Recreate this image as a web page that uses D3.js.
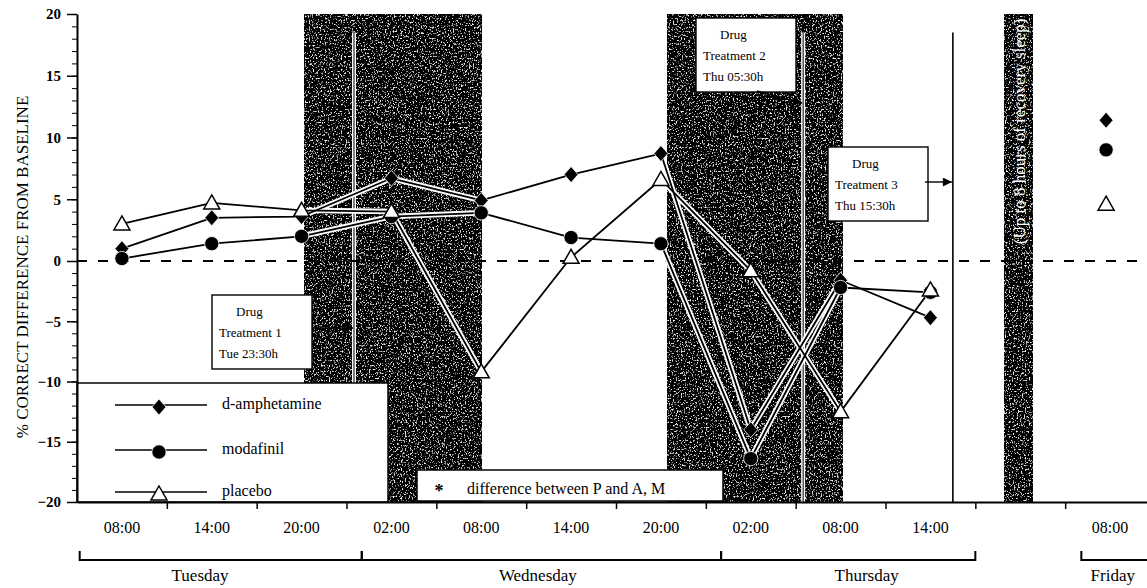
<!DOCTYPE html>
<html>
<head>
<meta charset="utf-8">
<script src="https://cdnjs.cloudflare.com/ajax/libs/d3/7.8.5/d3.min.js"></script>
<style>
  body { margin: 0; background: #fff; }
  text { font-family: "Liberation Serif", "Times New Roman", serif; fill: #000; }
</style>
</head>
<body>
<script>
// time slots along the x axis (one empty slot for the recovery-sleep gap)
const slots = ["Tue 08:00", "Tue 14:00", "Tue 20:00", "Wed 02:00", "Wed 08:00", "Wed 14:00",
  "Wed 20:00", "Thu 02:00", "Thu 08:00", "Thu 14:00", "gap", "Fri 08:00"];
const tickLabels = ["08:00", "14:00", "20:00", "02:00", "08:00", "14:00",
  "20:00", "02:00", "08:00", "14:00", "", "08:00"];

// % correct difference from baseline, Tue 08:00 .. Thu 14:00
const amphetamine = [1.0, 3.5, 3.6, 6.7, 4.9, 7.0, 8.7, -14.0, -1.6, -4.7];
const modafinil   = [0.2, 1.4, 2.0, 3.6, 3.9, 1.9, 1.4, -16.4, -2.2, -2.6];
const placebo     = [3.0, 4.7, 4.1, 4.0, -9.2, 0.3, 6.6, -0.8, -12.5, -2.4];
// Friday 08:00 after recovery sleep: amphetamine, modafinil, placebo
const fridayValues = [11.4, 9.0, 4.6];

const seriesNames = ["d-amphetamine", "modafinil", "placebo"];
const yTicks = [-20, -15, -10, -5, 0, 5, 10, 15, 20];

// night periods (in slot units), recovery sleep, drug treatments
const nights = [[2.03, 4], [6.07, 8.02]];
const recoverySleep = [9.83, 10.14];
const treatments = [
  {name: "Treatment 1", when: "Tue 23:30h", at: 2 + 3.5 / 6},
  {name: "Treatment 2", when: "Thu 05:30h", at: 7 + 3.5 / 6},
  {name: "Treatment 3", when: "Thu 15:30h", at: 9 + 1.5 / 6}
];
const days = ["Tuesday", "Wednesday", "Thursday", "Friday"];
const dayRanges = [[-0.47, 2.67], [2.67, 6.67], [6.67, 9.5], [10.68, 11.7]];
const dayLabelAt = [0.87, 4.63, 8.29, 11.03];

const width = 1147, height = 588;

const svg = d3.select("body").append("svg")
  .attr("width", width)
  .attr("height", height);

// speckled grey texture for the shaded periods
const defs = svg.append("defs");
const grain = defs.append("filter").attr("id", "grain")
  .attr("x", 0).attr("y", 0).attr("width", 1).attr("height", 1);
grain.append("feTurbulence").attr("type", "fractalNoise")
  .attr("baseFrequency", "0.75 0.55").attr("numOctaves", 2).attr("seed", 5);
grain.append("feColorMatrix").attr("type", "matrix")
  .attr("values", "1 0 0 0 0  1 0 0 0 0  1 0 0 0 0  0 0 0 0 1");
const ct = grain.append("feComponentTransfer");
["feFuncR", "feFuncG", "feFuncB"].forEach(f => {
  ct.append(f).attr("type", "linear").attr("slope", 5).attr("intercept", -2.9);
});

defs.append("marker").attr("id", "arrow")
  .attr("viewBox", "0 0 10 10").attr("refX", 10).attr("refY", 5)
  .attr("markerWidth", 12).attr("markerHeight", 9)
  .attr("markerUnits", "userSpaceOnUse").attr("orient", "auto")
  .append("path").attr("d", "M0,0L10,5L0,10Z").attr("fill", "#000");

const x = d3.scaleBand().domain(slots).range([77, 1155]);
const xs = d3.scaleLinear().domain([-0.5, 11.5]).range([77, 1155]);
const y = d3.scaleLinear().domain([-20, 0, 20]).range([502, 261, 14]);

// shaded night bands
svg.selectAll(".night")
  .data(nights)
  .enter().append("rect")
  .attr("x", d => xs(d[0]))
  .attr("width", d => xs(d[1]) - xs(d[0]))
  .attr("y", y(20))
  .attr("height", y(-20) - y(20))
  .attr("filter", "url(#grain)");

svg.append("rect")
  .attr("x", xs(recoverySleep[0]))
  .attr("width", xs(recoverySleep[1]) - xs(recoverySleep[0]))
  .attr("y", y(20))
  .attr("height", y(-20) - y(20))
  .attr("filter", "url(#grain)");

svg.append("text")
  .attr("transform", `translate(${xs((recoverySleep[0] + recoverySleep[1]) / 2) + 6}, ${y(10.5)}) rotate(-90)`)
  .attr("text-anchor", "middle")
  .style("fill", "#fff")
  .style("font-size", "17px")
  .text("(Up to 8 hours of recovery sleep)");

// treatment time lines
treatments.forEach((t, i) => {
  if (i < 2) {
    svg.append("line")
      .attr("x1", xs(t.at)).attr("x2", xs(t.at))
      .attr("y1", y(18.5)).attr("y2", y(-20))
      .attr("stroke", "#fff").attr("stroke-width", 4);
    svg.append("line")
      .attr("x1", xs(t.at)).attr("x2", xs(t.at))
      .attr("y1", y(18.5)).attr("y2", y(-20))
      .attr("stroke", "#000").attr("stroke-width", 1);
  } else {
    svg.append("line")
      .attr("x1", xs(t.at)).attr("x2", xs(t.at))
      .attr("y1", y(18.5)).attr("y2", y(-20))
      .attr("stroke", "#000").attr("stroke-width", 1.6);
  }
});

// zero line
svg.append("line")
  .attr("x1", 77).attr("x2", width)
  .attr("y1", y(0)).attr("y2", y(0))
  .attr("stroke", "#000").attr("stroke-width", 2)
  .attr("stroke-dasharray", "10,11");

// series
const seriesData = [amphetamine, modafinil, placebo];
const line = d3.line().x((d, i) => xs(i)).y(d => y(d));

svg.selectAll(".halo")
  .data(seriesData)
  .enter().append("path")
  .attr("d", line)
  .attr("fill", "none")
  .attr("stroke", "#fff")
  .attr("stroke-width", 5.5)
  .attr("stroke-linejoin", "round");

svg.selectAll(".series")
  .data(seriesData)
  .enter().append("path")
  .attr("d", line)
  .attr("fill", "none")
  .attr("stroke", "#000")
  .attr("stroke-width", 1.8)
  .attr("stroke-linejoin", "round");

const shapes = [
  "M0,-8L7,0L0,8L-7,0Z",
  d3.symbol().type(d3.symbolCircle).size(160)(),
  "M0,-8L8,6L-8,6Z"
];
const fills = ["#000", "#000", "#fff"];

function drawMarker(g, k, cx, cy) {
  g.append("path")
    .attr("d", shapes[k])
    .attr("transform", `translate(${cx},${cy})`)
    .attr("fill", fills[k])
    .attr("stroke", k === 2 ? "#000" : "#fff")
    .attr("stroke-width", k === 2 ? 1.5 : 0.8);
}

const markers = svg.append("g");
seriesData.forEach((vals, k) => {
  vals.forEach((v, i) => drawMarker(markers, k, xs(i), y(v)));
  drawMarker(markers, k, x("Fri 08:00") + x.bandwidth() / 2 - 4, y(fridayValues[k]));
});

// legend box
svg.append("rect")
  .attr("x", 77).attr("y", 383)
  .attr("width", 311).attr("height", y(-20) - 383)
  .attr("fill", "#fff").attr("stroke", "#000").attr("stroke-width", 1.5);

const legendY = [405, 450, 492];
seriesNames.forEach((name, k) => {
  svg.append("line")
    .attr("x1", 115).attr("x2", 207)
    .attr("y1", legendY[k]).attr("y2", legendY[k])
    .attr("stroke", "#000").attr("stroke-width", 1.3);
  drawMarker(svg, k, 159, legendY[k] + 2);
  svg.append("text")
    .attr("x", 222).attr("y", legendY[k] + 4)
    .style("font-size", "16px")
    .text(name);
});

svg.append("rect")
  .attr("x", 417).attr("y", 470)
  .attr("width", 306).attr("height", 31)
  .attr("fill", "#fff").attr("stroke", "#000").attr("stroke-width", 1.5);
svg.append("text")
  .attr("x", 439).attr("y", 497)
  .attr("text-anchor", "middle")
  .style("font-size", "18px")
  .style("font-weight", "bold")
  .text("*");
svg.append("text")
  .attr("x", 467).attr("y", 494)
  .style("font-size", "16px")
  .text("difference between P and A, M");

// treatment annotation boxes
const boxes = [[212, 295], [696, 18], [828, 147]];
const arrows = [[312, 328, 328], [757, 91, 103], [925, 182, 182]];
treatments.forEach((t, i) => {
  const [bx, by] = boxes[i];
  const g = svg.append("g").attr("transform", `translate(${bx},${by})`);
  g.append("rect")
    .attr("width", 100).attr("height", 74)
    .attr("fill", "#fff").attr("stroke", "#000").attr("stroke-width", 1.4);
  g.append("text").attr("x", 24).attr("y", 21).style("font-size", "13px").text("Drug");
  g.append("text").attr("x", 7).attr("y", 42).style("font-size", "13px").text(t.name);
  g.append("text").attr("x", 7).attr("y", 63).style("font-size", "13px").text(t.when);
  const a = arrows[i];
  svg.append("line")
    .attr("x1", a[0]).attr("y1", a[1])
    .attr("x2", xs(t.at) - 1).attr("y2", a[2])
    .attr("stroke", "#000").attr("stroke-width", 1.4)
    .attr("marker-end", "url(#arrow)");
});

// y axis
svg.append("g")
  .attr("transform", "translate(77,0)")
  .call(d3.axisLeft(y).tickValues(d3.range(-20, 21, 1)).tickSize(5).tickSizeOuter(0).tickFormat(""))
  .call(g => g.select(".domain").attr("stroke-width", 2));

svg.append("g")
  .attr("transform", "translate(77,0)")
  .call(d3.axisLeft(y).tickValues(yTicks).tickSize(10).tickSizeOuter(0).tickPadding(6))
  .call(g => g.select(".domain").remove())
  .call(g => g.selectAll("line").attr("stroke-width", 1.5))
  .call(g => g.selectAll("text").style("font-size", "15px").style("font-weight", "bold")
    .style("font-family", '"Liberation Serif", serif'));

svg.append("text")
  .attr("transform", `translate(28, 267) rotate(-90)`)
  .attr("text-anchor", "middle")
  .style("font-size", "17px")
  .text("% CORRECT DIFFERENCE FROM BASELINE");

// x axis: labels centred in slots, ticks on slot boundaries
svg.append("g")
  .attr("transform", `translate(0, ${y(-20)})`)
  .call(d3.axisBottom(x).tickSize(0).tickSizeOuter(0).tickPadding(20)
    .tickFormat((d, i) => tickLabels[i]))
  .call(g => g.select(".domain").attr("stroke-width", 2))
  .call(g => g.selectAll("text").style("font-size", "16px")
    .style("font-family", '"Liberation Serif", serif'));

svg.append("g")
  .attr("transform", `translate(0, ${y(-20)})`)
  .call(d3.axisBottom(xs).tickValues(d3.range(0.5, 11, 1)).tickSize(7).tickFormat(""))
  .call(g => g.select(".domain").remove())
  .call(g => g.selectAll("line").attr("stroke-width", 1.5));

// day brackets
days.forEach((day, i) => {
  const [a, b] = dayRanges[i];
  svg.append("path")
    .attr("d", `M${xs(a)},551V560H${xs(b)}V551`)
    .attr("fill", "none").attr("stroke", "#000").attr("stroke-width", 2);
  svg.append("text")
    .attr("x", xs(dayLabelAt[i])).attr("y", 581)
    .attr("text-anchor", "middle")
    .style("font-size", "17px")
    .text(day);
});
</script>
</body>
</html>
